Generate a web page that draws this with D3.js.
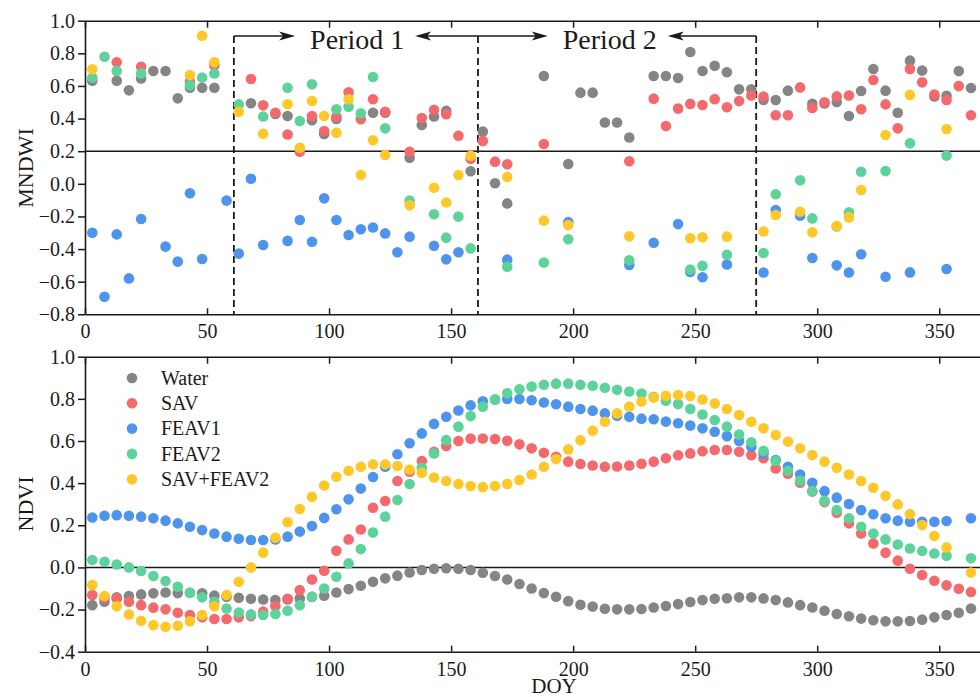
<!DOCTYPE html>
<html>
<head>
<meta charset="utf-8">
<script src="https://cdn.jsdelivr.net/npm/d3@7"></script>
<style>
  html, body { margin: 0; padding: 0; background: #ffffff; }
  svg { display: block; font-family: "Liberation Serif", "Times New Roman", serif; }
</style>
</head>
<body>
<svg id="chart" width="980" height="697"></svg>
<script>
// ---------------- series definitions ----------------
const seriesNames  = ["Water", "SAV", "FEAV1", "FEAV2", "SAV+FEAV2"];
const seriesColors = ["#858585", "#f4696c", "#4f94ec", "#5dd39b", "#fec82a"];

// ---------------- MNDWI (upper panel): observation days and values ----------------
const waterMndwiDays = [3,13,18,23,28,33,38,43,48,53,68,78,83,93,98,103,118,123,133,138,143,148,158,163,168,173,188,198,203,208,213,218,223,233,238,243,248,253,258,263,268,273,278,283,288,298,303,308,313,318,323,328,333,338,343,348,353,358,363];
const waterMndwi     = [0.632,0.632,0.573,0.646,0.692,0.692,0.524,0.589,0.589,0.589,0.494,0.428,0.416,0.39,0.305,0.398,0.436,0.436,0.16,0.361,0.413,0.447,0.077,0.32,0.003,-0.12,0.661,0.121,0.559,0.559,0.376,0.376,0.284,0.661,0.661,0.649,0.808,0.692,0.724,0.684,0.579,0.58,0.514,0.514,0.571,0.491,0.493,0.502,0.416,0.569,0.704,0.571,0.436,0.755,0.694,0.536,0.54,0.691,0.587];

const savMndwiDays = [13,23,43,53,68,73,78,83,88,93,98,103,108,113,118,123,133,138,143,148,153,158,163,168,173,188,223,233,238,243,248,253,258,263,268,273,278,283,288,293,298,303,308,313,318,323,328,333,338,343,348,353,358,363];
const savMndwi     = [0.745,0.718,0.625,0.726,0.643,0.481,0.436,0.302,0.197,0.416,0.324,0.411,0.561,0.396,0.518,0.442,0.197,0.403,0.453,0.427,0.295,0.153,0.263,0.136,0.12,0.244,0.138,0.522,0.354,0.461,0.49,0.483,0.519,0.469,0.507,0.542,0.535,0.42,0.42,0.591,0.465,0.5,0.536,0.541,0.457,0.636,0.487,0.34,0.704,0.622,0.548,0.514,0.599,0.42];

const feav1MndwiDays = [3,8,13,18,23,33,38,43,48,58,63,68,73,83,88,93,98,103,108,113,118,123,128,133,143,148,153,173,198,223,233,243,248,253,263,278,283,293,298,308,313,318,328,338,353];
const feav1Mndwi     = [-0.30,-0.692,-0.31,-0.58,-0.216,-0.385,-0.477,-0.058,-0.461,-0.103,-0.428,0.031,-0.375,-0.35,-0.222,-0.355,-0.089,-0.222,-0.314,-0.279,-0.268,-0.304,-0.42,-0.324,-0.38,-0.463,-0.42,-0.465,-0.235,-0.498,-0.361,-0.247,-0.54,-0.573,-0.494,-0.544,-0.161,-0.196,-0.455,-0.5,-0.544,-0.432,-0.57,-0.543,-0.522];

const feav2MndwiDays = [3,8,13,23,43,48,53,63,73,83,88,93,103,108,113,118,123,133,143,148,153,158,173,188,198,223,248,253,263,278,283,293,298,308,313,318,328,338,353];
const feav2Mndwi     = [0.651,0.779,0.692,0.677,0.605,0.651,0.677,0.487,0.413,0.589,0.385,0.61,0.457,0.473,0.432,0.655,0.34,-0.103,-0.187,-0.33,-0.201,-0.396,-0.508,-0.483,-0.34,-0.469,-0.526,-0.503,-0.435,-0.424,-0.064,0.022,-0.212,-0.261,-0.175,0.074,0.078,0.248,0.173];

const mixMndwiDays = [3,43,48,53,63,73,83,88,93,98,103,108,113,118,123,133,143,148,153,158,173,188,198,223,248,253,263,278,283,293,298,308,313,318,328,338,353];
const mixMndwi     = [0.702,0.667,0.908,0.745,0.442,0.307,0.488,0.221,0.508,0.416,0.313,0.518,0.054,0.267,0.177,-0.132,-0.024,-0.115,0.054,0.172,0.042,-0.226,-0.253,-0.322,-0.334,-0.328,-0.324,-0.292,-0.191,-0.171,-0.297,-0.258,-0.206,-0.038,0.299,0.545,0.336];

// ---------------- NDVI (lower panel): common observation days, null = no value ----------------
const ndviDays = [3,8,13,18,23,28,33,38,43,48,53,58,63,68,73,78,83,88,93,98,103,108,113,118,123,128,133,138,143,148,153,158,163,168,173,178,183,188,193,198,203,208,213,218,223,228,233,238,243,248,253,258,263,268,273,278,283,288,293,298,303,308,313,318,323,328,333,338,343,348,353,358,363];

const waterNdvi = [-0.179,-0.163,-0.142,-0.136,-0.128,-0.123,-0.119,-0.122,-0.12,-0.123,-0.134,-0.139,-0.144,-0.149,-0.152,-0.155,-0.152,-0.147,-0.14,-0.134,-0.119,-0.103,-0.087,-0.068,-0.052,-0.039,-0.024,-0.012,-0.006,-0.004,-0.006,-0.012,-0.025,-0.041,-0.057,-0.079,-0.1,-0.122,-0.139,-0.16,-0.177,-0.186,-0.196,-0.199,-0.199,-0.197,-0.19,-0.183,-0.174,-0.164,-0.155,-0.149,-0.146,-0.142,-0.142,-0.147,-0.155,-0.166,-0.179,-0.19,-0.206,-0.221,-0.232,-0.243,-0.251,-0.256,-0.256,-0.254,-0.248,-0.237,-0.226,-0.215,-0.195];

const savNdvi = [-0.131,-0.145,-0.147,-0.163,-0.179,-0.191,-0.199,-0.215,-0.226,-0.237,-0.245,-0.245,-0.237,-0.231,-0.21,-0.183,-0.149,-0.108,-0.057,-0.016,0.079,0.133,0.18,0.283,0.315,0.41,0.454,0.505,0.549,0.576,0.6,0.611,0.612,0.609,0.601,0.584,0.565,0.544,0.525,0.502,0.491,0.484,0.478,0.479,0.484,0.492,0.502,0.518,0.532,0.541,0.551,0.557,0.557,0.549,0.532,0.518,0.47,0.445,0.402,0.36,0.31,0.26,0.209,0.161,0.114,0.07,0.032,-0.006,-0.036,-0.063,-0.085,-0.101,-0.117];

const feav1Ndvi = [0.237,0.245,0.248,0.245,0.241,0.233,0.222,0.209,0.193,0.177,0.161,0.146,0.136,0.13,0.13,0.133,0.146,0.17,0.196,0.235,0.276,0.323,0.374,0.429,0.478,0.537,0.589,0.636,0.681,0.715,0.745,0.769,0.788,0.797,0.799,0.799,0.793,0.783,0.774,0.763,0.752,0.744,0.731,0.72,0.715,0.706,0.703,0.692,0.684,0.673,0.66,0.644,0.623,0.6,0.573,0.541,0.51,0.478,0.441,0.402,0.362,0.331,0.301,0.272,0.252,0.233,0.222,0.217,0.217,0.217,0.22,null,0.233];

const feav2Ndvi = [0.035,0.027,0.014,0.0,-0.017,-0.041,-0.065,-0.092,-0.12,-0.142,-0.163,-0.195,-0.214,-0.223,-0.226,-0.221,-0.206,-0.179,-0.139,-0.1,-0.044,0.019,0.087,0.166,0.241,0.32,0.396,0.473,0.541,0.604,0.668,0.718,0.763,0.797,0.826,0.845,0.858,0.867,0.872,0.872,0.867,0.862,0.853,0.843,0.835,0.825,0.81,0.791,0.775,0.752,0.726,0.699,0.668,0.631,0.594,0.553,0.505,0.459,0.411,0.362,0.316,0.272,0.233,0.193,0.161,0.133,0.109,0.09,0.078,0.066,0.055,null,0.043];

const mixNdvi = [-0.084,-0.136,-0.184,-0.223,-0.253,-0.274,-0.282,-0.277,-0.255,-0.226,-0.184,-0.131,-0.068,0.0,0.07,0.141,0.214,0.277,0.335,0.389,0.43,0.459,0.478,0.489,0.489,0.481,0.465,0.449,0.427,0.41,0.396,0.386,0.381,0.386,0.396,0.415,0.441,0.478,0.514,0.56,0.604,0.649,0.691,0.731,0.763,0.787,0.806,0.815,0.818,0.813,0.797,0.778,0.752,0.723,0.691,0.66,0.628,0.597,0.565,0.533,0.502,0.473,0.441,0.41,0.378,0.34,0.299,0.253,0.201,0.149,0.095,null,-0.024];

// ---------------- axis ticks and annotations ----------------
const doyTicks   = [0, 50, 100, 150, 200, 250, 300, 350];
const mndwiTicks = [-0.8, -0.6, -0.4, -0.2, 0.0, 0.2, 0.4, 0.6, 0.8, 1.0];
const ndviTicks  = [-0.4, -0.2, 0.0, 0.2, 0.4, 0.6, 0.8, 1.0];
const mndwiRef = 0.2;
const ndviRef  = 0.0;
const periodBounds   = [61, 161, 275];
const periodLabels   = ["Period 1", "Period 2"];
const periodLabelDoy = [111.5, 215];

// ---------------- layout ----------------
const svg = d3.select("#chart");
const FONT = "Liberation Serif, Times New Roman, serif";
const INK = "#1a1a1a";

const x = d3.scaleLinear().domain([0, 366.7]).range([85, 980]);
const yTop = d3.scaleLinear().domain([-0.8, 1.0]).range([314.3, 20.7]);
const yBot = d3.scaleLinear().domain([-0.4, 1.0]).range([651.7, 356.7]);

function styleAxis(g) {
  g.attr("font-family", FONT).attr("font-size", 20).attr("color", INK);
  g.selectAll("path.domain").attr("stroke-width", 1.6);
  g.selectAll(".tick line").attr("stroke-width", 1.5);
}

function drawFrame(y, yTicks, refValue, title, titleY) {
  const g = svg.append("g");
  // bottom axis with inward ticks and labels
  g.append("g")
    .attr("transform", `translate(0,${y.range()[0]})`)
    .call(d3.axisBottom(x).tickValues(doyTicks).tickSizeInner(-6).tickSizeOuter(0)
      .tickPadding(10).tickFormat(d3.format("d")))
    .call(styleAxis);
  // top axis, ticks only
  g.append("g")
    .attr("transform", `translate(0,${y.range()[1]})`)
    .call(d3.axisTop(x).tickValues(doyTicks).tickSizeInner(-7).tickSizeOuter(0).tickFormat(""))
    .call(styleAxis);
  // left axis, outward ticks
  g.append("g")
    .attr("transform", `translate(${x.range()[0]},0)`)
    .call(d3.axisLeft(y).tickValues(yTicks).tickSizeInner(7).tickSizeOuter(0)
      .tickPadding(3).tickFormat(d3.format(".1f")))
    .call(styleAxis);
  // horizontal reference line
  g.append("line")
    .attr("x1", x.range()[0]).attr("x2", x.range()[1])
    .attr("y1", y(refValue)).attr("y2", y(refValue))
    .attr("stroke", INK).attr("stroke-width", 1.5);
  // y axis title
  g.append("text")
    .attr("transform", `translate(33,${titleY}) rotate(-90)`)
    .attr("text-anchor", "middle")
    .attr("font-family", FONT).attr("font-size", 22).attr("fill", INK)
    .text(title);
}

function drawDots(y, series) {
  const layer = svg.append("g");
  series.forEach((s, i) => {
    const pts = s.days.map((d, k) => ({ d, v: s.values[k] })).filter(p => p.v !== null);
    layer.append("g").selectAll("circle").data(pts).join("circle")
      .attr("cx", p => x(p.d))
      .attr("cy", p => y(p.v))
      .attr("r", 5.3)
      .attr("fill", seriesColors[i]);
  });
}

// ---------------- upper panel: MNDWI ----------------
drawFrame(yTop, mndwiTicks, mndwiRef, "MNDWI", 168);

// period boundaries and labels
const annY = 36;
const ann = svg.append("g");
periodBounds.forEach(b => {
  ann.append("line")
    .attr("x1", x(b)).attr("x2", x(b))
    .attr("y1", annY).attr("y2", yTop.range()[0])
    .attr("stroke", INK).attr("stroke-width", 1.8)
    .attr("stroke-dasharray", "7,4");
});

function arrow(fromX, tipX) {
  const dir = Math.sign(tipX - fromX);
  ann.append("line")
    .attr("x1", fromX).attr("x2", tipX - dir * 10)
    .attr("y1", annY).attr("y2", annY)
    .attr("stroke", INK).attr("stroke-width", 1.4);
  ann.append("path")
    .attr("d", `M${tipX},${annY} L${tipX - dir * 16},${annY - 4.5} L${tipX - dir * 12},${annY} L${tipX - dir * 16},${annY + 4.5} Z`)
    .attr("fill", INK);
}

periodLabels.forEach((lab, i) => {
  const cx = x(periodLabelDoy[i]);
  arrow(x(periodBounds[i]), cx - 62);
  arrow(x(periodBounds[i + 1]), cx + 58);
  ann.append("text")
    .attr("x", cx).attr("y", 48.5)
    .attr("text-anchor", "middle")
    .attr("font-family", FONT).attr("font-size", 28).attr("fill", INK)
    .text(lab);
});

drawDots(yTop, [
  { days: waterMndwiDays, values: waterMndwi },
  { days: savMndwiDays,   values: savMndwi },
  { days: feav1MndwiDays, values: feav1Mndwi },
  { days: feav2MndwiDays, values: feav2Mndwi },
  { days: mixMndwiDays,   values: mixMndwi }
]);

// ---------------- lower panel: NDVI ----------------
drawFrame(yBot, ndviTicks, ndviRef, "NDVI", 504);

drawDots(yBot, [
  { days: ndviDays, values: waterNdvi },
  { days: ndviDays, values: savNdvi },
  { days: ndviDays, values: feav1Ndvi },
  { days: ndviDays, values: feav2Ndvi },
  { days: ndviDays, values: mixNdvi }
]);

// x axis title
svg.append("text")
  .attr("x", 554).attr("y", 693)
  .attr("text-anchor", "middle")
  .attr("font-family", FONT).attr("font-size", 21).attr("fill", INK)
  .text("DOY");

// legend
const legend = svg.append("g").attr("transform", "translate(132,378)");
seriesNames.forEach((name, i) => {
  const row = legend.append("g").attr("transform", `translate(0,${i * 25.3})`);
  row.append("circle").attr("r", 5.3).attr("fill", seriesColors[i]);
  row.append("text")
    .attr("x", 29).attr("dy", "0.33em")
    .attr("font-family", FONT).attr("font-size", 20).attr("fill", INK)
    .text(name);
});
</script>
</body>
</html>
